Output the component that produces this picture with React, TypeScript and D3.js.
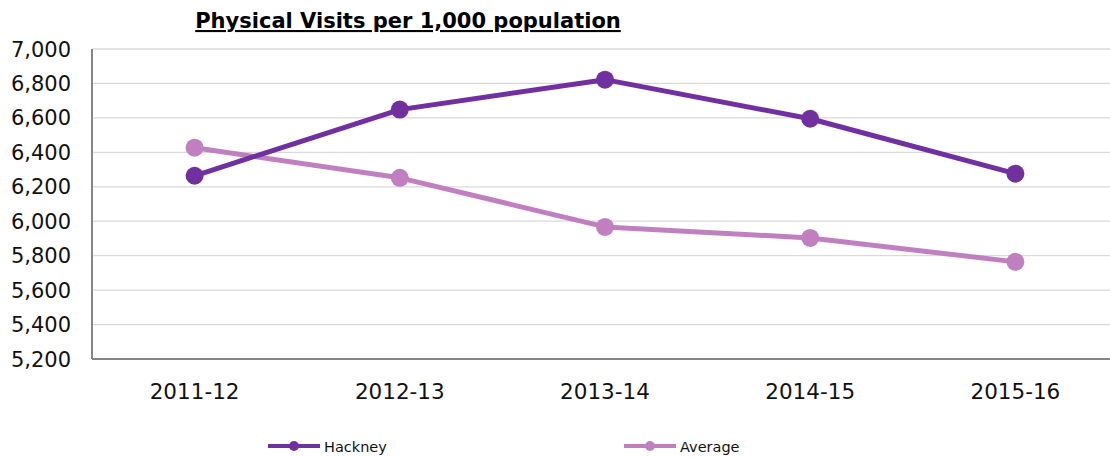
import React from "react";
import * as d3 from "d3";

const categories = ["2011-12", "2012-13", "2013-14", "2014-15", "2015-16"];
const hackney = [6264, 6648, 6822, 6595, 6276];
const average = [6427, 6252, 5967, 5903, 5764];
const yTicks = [5200, 5400, 5600, 5800, 6000, 6200, 6400, 6600, 6800, 7000];
const seriesNames = ["Hackney", "Average"];
const seriesColors = ["#7030A0", "#C080C0"];

export default function App() {
  const W = 1110, H = 457;
  const left = 92, right = 1118, top = 49, bottom = 359;
  const x = d3.scaleBand<string>().domain(categories).range([left, right]);
  const y = d3.scaleLinear().domain([5200, 7000]).range([bottom, top]);
  const line = d3.line<number>().x((_, i) => (x(categories[i]) as number) + x.bandwidth() / 2).y(d => y(d));
  const series = [hackney, average];
  const font = "'DejaVu Sans', sans-serif";
  const legendX = [268, 624];
  return (
    <svg width={W} height={H} style={{ position: "absolute", left: 0, top: 0 }}>
      <rect width={W} height={H} fill="#fff" />
      <text x={408} y={28} textAnchor="middle" fontFamily={font} fontWeight="bold" fontSize={21} textDecoration="underline">
        Physical Visits per 1,000 population
      </text>
      {yTicks.map(t => (
        <g key={t}>
          {t !== 5200 && <line x1={left} x2={W} y1={y(t)} y2={y(t)} stroke="#d9d9d9" strokeWidth={1.3} />}
          <text x={71} y={y(t) + 7.5} textAnchor="end" fontFamily={font} fontSize={21} fill="#111">
            {d3.format(",")(t)}
          </text>
        </g>
      ))}
      <line x1={left} x2={left} y1={top} y2={bottom} stroke="#868686" strokeWidth={2} />
      <line x1={left} x2={W} y1={bottom} y2={bottom} stroke="#868686" strokeWidth={2} />
      {categories.map(c => (
        <text key={c} x={(x(c) as number) + x.bandwidth() / 2} y={399} textAnchor="middle" fontFamily={font} fontSize={21.5} fill="#111">
          {c}
        </text>
      ))}
      {[1, 0].map(si => (
        <g key={si}>
          <path d={line(series[si]) as string} fill="none" stroke={seriesColors[si]} strokeWidth={5} strokeLinejoin="round" />
          {series[si].map((v, i) => (
            <circle key={i} cx={(x(categories[i]) as number) + x.bandwidth() / 2} cy={y(v)} r={9} fill={seriesColors[si]} />
          ))}
        </g>
      ))}
      {seriesNames.map((n, i) => (
        <g key={n}>
          <line x1={legendX[i]} x2={legendX[i] + 52} y1={446} y2={446} stroke={seriesColors[i]} strokeWidth={4} />
          <circle cx={legendX[i] + 26} cy={446} r={5} fill={seriesColors[i]} />
          <text x={legendX[i] + 56} y={451.5} fontFamily={font} fontSize={14.5} fill="#111">
            {n}
          </text>
        </g>
      ))}
    </svg>
  );
}
